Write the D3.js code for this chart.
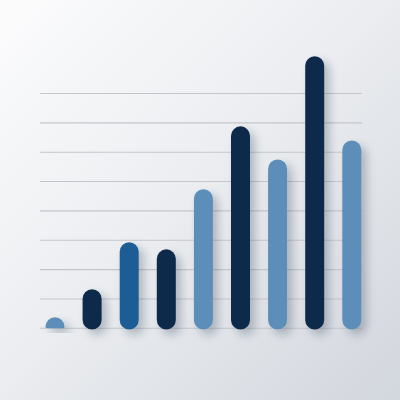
<!DOCTYPE html>
<html>
<head>
<meta charset="utf-8">
<script src="https://cdn.jsdelivr.net/npm/d3@7"></script>
<style>
  html, body { margin: 0; padding: 0; }
  svg { display: block; }
</style>
</head>
<body>
<svg width="400" height="400"></svg>
<script>
// bar data (grid units)
var categories = ['a', 'b', 'c', 'd', 'e', 'f', 'g', 'h', 'i'];
var values = [0.38, 1.33, 2.93, 2.69, 4.74, 6.88, 5.75, 9.27, 6.4];
var shades = ['light', 'dark', 'mid', 'dark', 'light', 'dark', 'light', 'dark', 'light'];
var gridTicks = [0, 1, 2, 3, 4, 5, 6, 7, 8];

var palette = { light: '#5b8eb9', mid: '#1b5d95', dark: '#0c2a4b' };

var svg = d3.select('svg'),
  width = +svg.attr('width'),
  height = +svg.attr('height');

var defs = svg.append('defs');

// soft background, white at top-left, grey at bottom-right
var bg = defs.append('linearGradient')
  .attr('id', 'bg')
  .attr('x1', '0').attr('y1', '0')
  .attr('x2', '1').attr('y2', '1');
bg.append('stop').attr('offset', '0%').attr('stop-color', '#fcfcfd');
bg.append('stop').attr('offset', '45%').attr('stop-color', '#eceef1');
bg.append('stop').attr('offset', '100%').attr('stop-color', '#d2d6dd');

var shadow = defs.append('filter')
  .attr('id', 'shadow')
  .attr('x', '-60%').attr('y', '-20%')
  .attr('width', '260%').attr('height', '160%');
shadow.append('feDropShadow')
  .attr('dx', 5).attr('dy', 5)
  .attr('stdDeviation', 4)
  .attr('flood-color', '#1c2a40')
  .attr('flood-opacity', 0.28);

svg.append('rect')
  .attr('width', width)
  .attr('height', height)
  .attr('fill', 'url(#bg)');

var x = d3.scaleBand()
  .domain(categories)
  .range([45.5, 361.3])
  .paddingInner(0.488)
  .paddingOuter(0);

var y = d3.scaleLinear()
  .domain([0, 8])
  .range([328.3, 93.5]);

// gridlines
svg.append('g')
  .attr('class', 'grid')
  .selectAll('line')
  .data(gridTicks)
  .enter()
  .append('line')
  .attr('x1', 40)
  .attr('x2', 362)
  .attr('y1', function (d) { return y(d); })
  .attr('y2', function (d) { return y(d); })
  .attr('stroke', '#c3c6cb')
  .attr('stroke-width', 1.1);

// pill shaped bar: full round top, rounded bottom (shrinks when too short)
function pill(x0, w, top, bottom) {
  var r = w / 2;
  var h = bottom - top;
  var rt = Math.min(r, h);
  var rb = Math.max(0, Math.min(r, h - rt));
  var p = d3.path();
  p.moveTo(x0, bottom - rb);
  p.lineTo(x0, top + rt);
  p.arcTo(x0, top, x0 + r, top, rt);
  p.arcTo(x0 + w, top, x0 + w, top + rt, rt);
  p.lineTo(x0 + w, bottom - rb);
  if (rb > 0) {
    p.arcTo(x0 + w, bottom, x0 + w - rb, bottom, rb);
    p.lineTo(x0 + rb, bottom);
    p.arcTo(x0, bottom, x0, bottom - rb, rb);
  } else {
    p.lineTo(x0, bottom);
  }
  p.closePath();
  return p.toString();
}

svg.append('g')
  .attr('class', 'bars')
  .selectAll('path')
  .data(values)
  .enter()
  .append('path')
  .attr('d', function (d, i) {
    var bottom = y(0) + (d > 1 ? 1.2 : 0);
    return pill(x(categories[i]), x.bandwidth(), y(d), bottom);
  })
  .attr('fill', function (d, i) { return palette[shades[i]]; })
  .attr('filter', 'url(#shadow)');
</script>
</body>
</html>
